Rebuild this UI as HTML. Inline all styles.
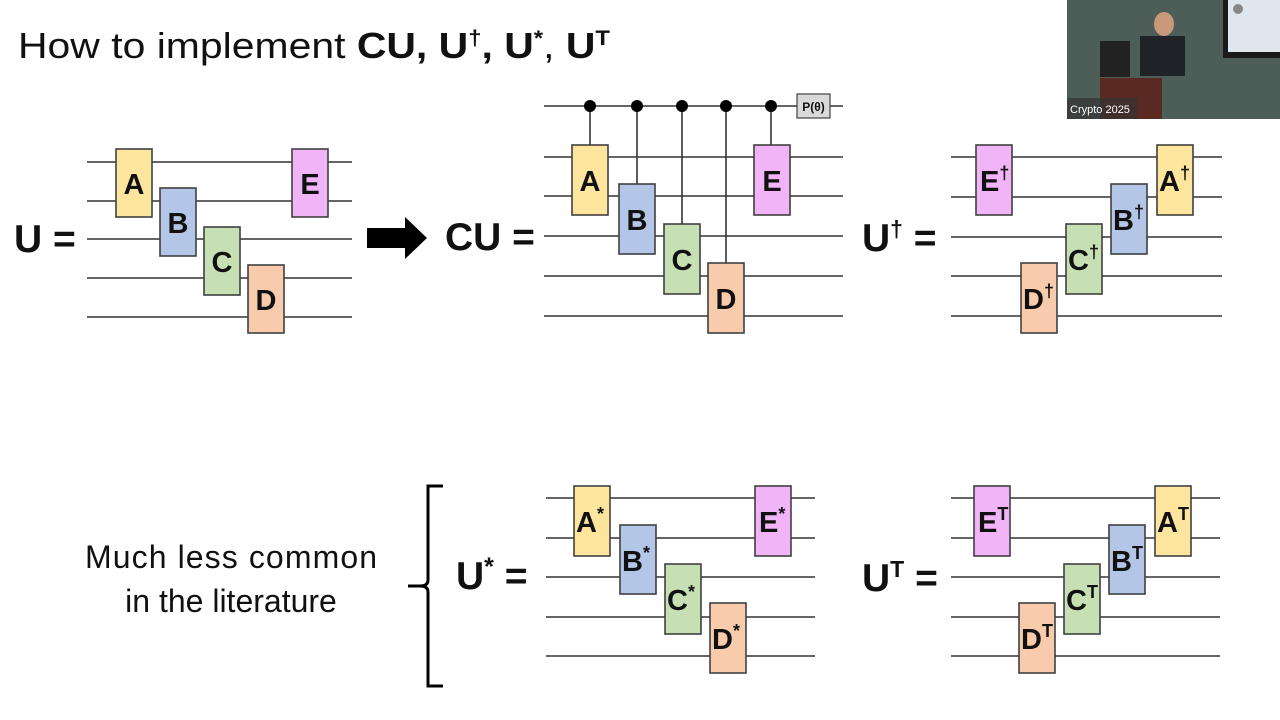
<!DOCTYPE html>
<html><head><meta charset="utf-8"><style>
html,body{margin:0;padding:0;background:#fff;width:1280px;height:720px;overflow:hidden}
svg{display:block}
.w{stroke:#333;stroke-width:1.6}
.g{stroke:#404040;stroke-width:1.6}
.t{font-family:"Liberation Sans",sans-serif;font-weight:bold;font-size:29px;fill:#111;text-anchor:middle}
.u{font-family:"Liberation Sans",sans-serif;font-weight:bold;font-size:29px;fill:#111;text-anchor:start}
.s{font-size:18px}
.L{font-family:"Liberation Sans",sans-serif;font-weight:bold;font-size:39px;fill:#111}
</style></head><body>
<svg width="1280" height="720" viewBox="0 0 1280 720" xmlns="http://www.w3.org/2000/svg">
<rect width="1280" height="720" fill="#fff"/>
<!-- title -->
<text x="18" y="58" font-family="Liberation Sans,sans-serif" font-size="36" fill="#111" textLength="592" lengthAdjust="spacingAndGlyphs">How to implement <tspan font-weight="bold">CU, U<tspan dy="-13" font-size="21">†</tspan><tspan dy="13">, U</tspan><tspan dy="-13" font-size="21">*</tspan></tspan><tspan dy="13">, </tspan><tspan font-weight="bold">U<tspan dy="-13" font-size="21">T</tspan></tspan></text>

<!-- webcam -->
<g>
<rect x="1067" y="0" width="213" height="119" fill="#4d5e58"/>
<rect x="1223" y="0" width="57" height="58" fill="#1a1a1a"/>
<rect x="1228" y="0" width="52" height="52" fill="#dfe7ee"/>
<circle cx="1238" cy="9" r="5" fill="#888"/>
<rect x="1100" y="41" width="30" height="36" fill="#222"/>
<ellipse cx="1164" cy="24" rx="10" ry="12" fill="#c99a7a"/>
<rect x="1140" y="36" width="45" height="40" fill="#1f2226"/>
<rect x="1100" y="78" width="62" height="41" fill="#5a2a22"/>
<rect x="1067" y="98" width="70" height="21" fill="#333" opacity="0.7"/>
<text x="1070" y="113" font-family="Liberation Sans,sans-serif" font-size="11" fill="#fff">Crypto 2025</text>
</g>

<!-- U = -->
<text class="L" x="14" y="252">U =</text>
<g class="w">
<line x1="87" y1="162" x2="352" y2="162"/><line x1="87" y1="201" x2="352" y2="201"/><line x1="87" y1="239" x2="352" y2="239"/><line x1="87" y1="278" x2="352" y2="278"/><line x1="87" y1="317" x2="352" y2="317"/>
</g>
<g class="g">
<rect x="116" y="149" width="36" height="68" fill="#fde59e"/>
<rect x="160" y="188" width="36" height="68" fill="#b4c6e7"/>
<rect x="204" y="227" width="36" height="68" fill="#c6e0b4"/>
<rect x="248" y="265" width="36" height="68" fill="#f8cbad"/>
<rect x="292" y="149" width="36" height="68" fill="#f0b4f7"/>
</g>
<text class="t" x="134" y="194">A</text><text class="t" x="178" y="233">B</text><text class="t" x="222" y="272">C</text><text class="t" x="266" y="310">D</text><text class="t" x="310" y="194">E</text>

<!-- arrow -->
<polygon points="367,228 405,228 405,217 427,238 405,259 405,248 367,248" fill="#000"/>

<!-- CU -->
<text class="L" x="445" y="250">CU =</text>
<g class="w">
<line x1="544" y1="106" x2="843" y2="106"/>
<line x1="544" y1="157" x2="843" y2="157"/><line x1="544" y1="196" x2="843" y2="196"/><line x1="544" y1="236" x2="843" y2="236"/><line x1="544" y1="276" x2="843" y2="276"/><line x1="544" y1="316" x2="843" y2="316"/>
<line x1="590" y1="106" x2="590" y2="145"/><line x1="637" y1="106" x2="637" y2="184"/><line x1="682" y1="106" x2="682" y2="224"/><line x1="726" y1="106" x2="726" y2="263"/><line x1="771" y1="106" x2="771" y2="145"/>
</g>
<g fill="#000"><circle cx="590" cy="106" r="6"/><circle cx="637" cy="106" r="6"/><circle cx="682" cy="106" r="6"/><circle cx="726" cy="106" r="6"/><circle cx="771" cy="106" r="6"/></g>
<rect x="797" y="94" width="33" height="24" fill="#d9d9d9" stroke="#404040" stroke-width="1.2"/>
<text x="813.5" y="111" font-family="Liberation Sans,sans-serif" font-weight="bold" font-size="12" text-anchor="middle" fill="#111">P(θ)</text>
<g class="g">
<rect x="572" y="145" width="36" height="70" fill="#fde59e"/>
<rect x="619" y="184" width="36" height="70" fill="#b4c6e7"/>
<rect x="664" y="224" width="36" height="70" fill="#c6e0b4"/>
<rect x="708" y="263" width="36" height="70" fill="#f8cbad"/>
<rect x="754" y="145" width="36" height="70" fill="#f0b4f7"/>
</g>
<text class="t" x="590" y="191">A</text><text class="t" x="637" y="230">B</text><text class="t" x="682" y="270">C</text><text class="t" x="726" y="309">D</text><text class="t" x="772" y="191">E</text>

<!-- U dagger -->
<text class="L" x="862" y="251">U<tspan dy="-14" font-size="23">†</tspan><tspan dy="14"> =</tspan></text>
<g class="w">
<line x1="951" y1="157" x2="1222" y2="157"/><line x1="951" y1="197" x2="1222" y2="197"/><line x1="951" y1="237" x2="1222" y2="237"/><line x1="951" y1="276" x2="1222" y2="276"/><line x1="951" y1="316" x2="1222" y2="316"/>
</g>
<g class="g">
<rect x="976" y="145" width="36" height="70" fill="#f0b4f7"/>
<rect x="1021" y="263" width="36" height="70" fill="#f8cbad"/>
<rect x="1066" y="224" width="36" height="70" fill="#c6e0b4"/>
<rect x="1111" y="184" width="36" height="70" fill="#b4c6e7"/>
<rect x="1157" y="145" width="36" height="70" fill="#fde59e"/>
</g>
<text class="u" x="980" y="191">E<tspan class="s" dy="-12">†</tspan></text>
<text class="u" x="1023" y="309">D<tspan class="s" dy="-12">†</tspan></text>
<text class="u" x="1068" y="270">C<tspan class="s" dy="-12">†</tspan></text>
<text class="u" x="1113" y="230">B<tspan class="s" dy="-12">†</tspan></text>
<text class="u" x="1159" y="191">A<tspan class="s" dy="-12">†</tspan></text>

<!-- left text -->
<text x="231" y="568" font-family="Liberation Sans,sans-serif" font-size="32" fill="#111" text-anchor="middle" textLength="292">Much less common</text>
<text x="231" y="612" font-family="Liberation Sans,sans-serif" font-size="32" fill="#111" text-anchor="middle">in the literature</text>
<!-- brace -->
<path d="M443,486 L428,486 L428,580 Q428,586 420,586 L408,586 M420,586 Q428,586 428,592 L428,686 L443,686" fill="none" stroke="#000" stroke-width="3"/>

<!-- U* -->
<text class="L" x="456" y="589">U<tspan dy="-14" font-size="25">*</tspan><tspan dy="14"> =</tspan></text>
<g class="w">
<line x1="546" y1="498" x2="815" y2="498"/><line x1="546" y1="538" x2="815" y2="538"/><line x1="546" y1="577" x2="815" y2="577"/><line x1="546" y1="617" x2="815" y2="617"/><line x1="546" y1="656" x2="815" y2="656"/>
</g>
<g class="g">
<rect x="574" y="486" width="36" height="70" fill="#fde59e"/>
<rect x="620" y="525" width="36" height="69" fill="#b4c6e7"/>
<rect x="665" y="564" width="36" height="70" fill="#c6e0b4"/>
<rect x="710" y="603" width="36" height="70" fill="#f8cbad"/>
<rect x="755" y="486" width="36" height="70" fill="#f0b4f7"/>
</g>
<text class="u" x="576" y="532">A<tspan class="s" dy="-12">*</tspan></text>
<text class="u" x="622" y="571">B<tspan class="s" dy="-12">*</tspan></text>
<text class="u" x="667" y="610">C<tspan class="s" dy="-12">*</tspan></text>
<text class="u" x="712" y="649">D<tspan class="s" dy="-12">*</tspan></text>
<text class="u" x="759" y="532">E<tspan class="s" dy="-12">*</tspan></text>

<!-- UT -->
<text class="L" x="862" y="591">U<tspan dy="-14" font-size="23">T</tspan><tspan dy="14"> =</tspan></text>
<g class="w">
<line x1="951" y1="498" x2="1220" y2="498"/><line x1="951" y1="538" x2="1220" y2="538"/><line x1="951" y1="577" x2="1220" y2="577"/><line x1="951" y1="617" x2="1220" y2="617"/><line x1="951" y1="656" x2="1220" y2="656"/>
</g>
<g class="g">
<rect x="974" y="486" width="36" height="70" fill="#f0b4f7"/>
<rect x="1019" y="603" width="36" height="70" fill="#f8cbad"/>
<rect x="1064" y="564" width="36" height="70" fill="#c6e0b4"/>
<rect x="1109" y="525" width="36" height="69" fill="#b4c6e7"/>
<rect x="1155" y="486" width="36" height="70" fill="#fde59e"/>
</g>
<text class="u" x="978" y="532">E<tspan class="s" dy="-12">T</tspan></text>
<text class="u" x="1021" y="649">D<tspan class="s" dy="-12">T</tspan></text>
<text class="u" x="1066" y="610">C<tspan class="s" dy="-12">T</tspan></text>
<text class="u" x="1111" y="571">B<tspan class="s" dy="-12">T</tspan></text>
<text class="u" x="1157" y="532">A<tspan class="s" dy="-12">T</tspan></text>
</svg>
</body></html>
